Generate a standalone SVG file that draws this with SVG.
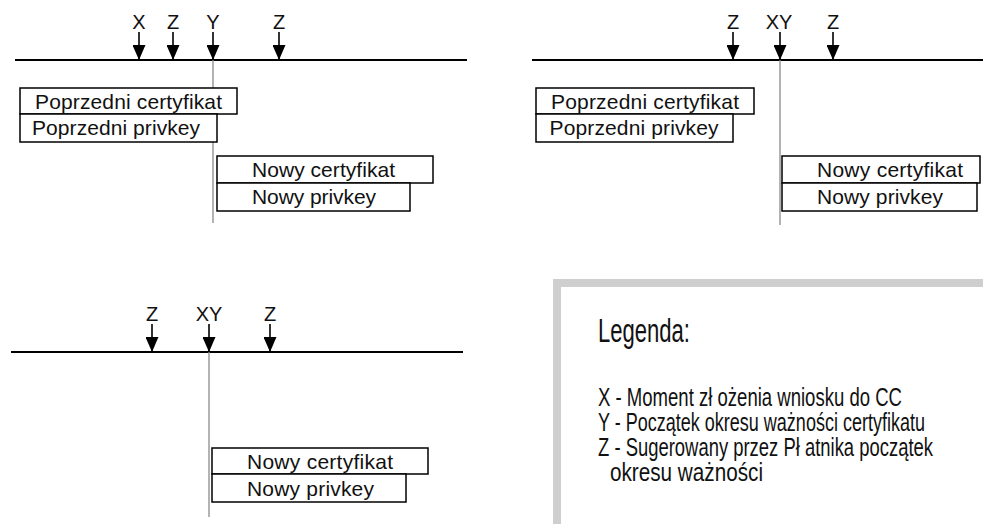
<svg xmlns="http://www.w3.org/2000/svg" width="983" height="524" viewBox="0 0 983 524">
<style>
.bg{fill:#fff}
.box{fill:#fff;stroke:#000;stroke-width:1.5}
.t{font-family:"Liberation Sans",Arial,sans-serif;font-size:21px;fill:#111;text-anchor:middle}
.lab{font-family:"Liberation Sans",Arial,sans-serif;font-size:20px;fill:#111;text-anchor:middle}
.axis{stroke:#000;stroke-width:1.8;fill:none}
.vline{stroke:#8a8a8a;stroke-width:1.3;fill:none}
.arr{stroke:#000;stroke-width:1.6;fill:none;marker-end:url(#head)}
.leg{font-family:"Liberation Sans",Arial,sans-serif;fill:#111}
.legbox{fill:#fff;stroke:#cfcfcf;stroke-width:8}
</style>
<defs>
<marker id="head" viewBox="0 0 15 13" refX="15" refY="6.5" markerWidth="15" markerHeight="13" markerUnits="userSpaceOnUse" orient="auto">
<path d="M0,0 L15,6.5 L0,13 z" fill="#000"/>
</marker>
</defs>
<rect class="bg" x="0" y="0" width="983" height="524"/>

<!-- Panel 1 -->
<g id="panel1">
<g id="p1-connectors">
<line class="axis" x1="15" y1="60" x2="467" y2="60"/>
<line class="vline" x1="213" y1="60" x2="213" y2="223"/>
<line class="arr" x1="139" y1="32" x2="139" y2="60"/>
<line class="arr" x1="173" y1="32" x2="173" y2="60"/>
<line class="arr" x1="213" y1="32" x2="213" y2="60"/>
<line class="arr" x1="279" y1="32" x2="279" y2="60"/>
</g>
<g id="p1-labels">
<text class="lab" x="139" y="29">X</text>
<text class="lab" x="173" y="29">Z</text>
<text class="lab" x="213" y="29">Y</text>
<text class="lab" x="279" y="29">Z</text>
</g>
<g id="p1-prev-cert"><rect class="box" x="20" y="88" width="217" height="26"/><text class="t" x="128.5" y="109" textLength="187">Poprzedni certyfikat</text></g>
<g id="p1-prev-key"><rect class="box" x="20" y="114" width="197" height="28"/><text class="t" x="116" y="135" textLength="168">Poprzedni privkey</text></g>
<g id="p1-new-cert"><rect class="box" x="217" y="156" width="216" height="27"/><text class="t" x="323.5" y="177" textLength="143">Nowy certyfikat</text></g>
<g id="p1-new-key"><rect class="box" x="217" y="183" width="193" height="28"/><text class="t" x="314" y="204" textLength="124">Nowy privkey</text></g>
</g>

<!-- Panel 2 -->
<g id="panel2">
<g id="p2-connectors">
<line class="axis" x1="532" y1="60" x2="983" y2="60"/>
<line class="vline" x1="780" y1="60" x2="780" y2="225"/>
<line class="arr" x1="733" y1="32" x2="733" y2="60"/>
<line class="arr" x1="780" y1="32" x2="780" y2="60"/>
<line class="arr" x1="833" y1="32" x2="833" y2="60"/>
</g>
<g id="p2-labels">
<text class="lab" x="733" y="29">Z</text>
<text class="lab" x="779" y="29">XY</text>
<text class="lab" x="833" y="29">Z</text>
</g>
<g id="p2-prev-cert"><rect class="box" x="536" y="88" width="218" height="26"/><text class="t" x="645" y="109" textLength="188">Poprzedni certyfikat</text></g>
<g id="p2-prev-key"><rect class="box" x="536" y="114" width="197" height="28"/><text class="t" x="634" y="135" textLength="169">Poprzedni privkey</text></g>
<g id="p2-new-cert"><rect class="box" x="782" y="156" width="198" height="27"/><text class="t" x="890" y="177" textLength="146">Nowy certyfikat</text></g>
<g id="p2-new-key"><rect class="box" x="782" y="183" width="195" height="28"/><text class="t" x="880" y="204" textLength="126">Nowy privkey</text></g>
</g>

<!-- Panel 3 -->
<g id="panel3">
<g id="p3-connectors">
<line class="axis" x1="11" y1="352" x2="463" y2="352"/>
<line class="vline" x1="209" y1="352" x2="209" y2="517"/>
<line class="arr" x1="152" y1="324" x2="152" y2="352"/>
<line class="arr" x1="209" y1="324" x2="209" y2="352"/>
<line class="arr" x1="270" y1="324" x2="270" y2="352"/>
</g>
<g id="p3-labels">
<text class="lab" x="152" y="321">Z</text>
<text class="lab" x="209" y="321">XY</text>
<text class="lab" x="270" y="321">Z</text>
</g>
<g id="p3-new-cert"><rect class="box" x="212" y="448" width="216" height="26"/><text class="t" x="320" y="469" textLength="146">Nowy certyfikat</text></g>
<g id="p3-new-key"><rect class="box" x="212" y="474" width="194" height="28"/><text class="t" x="310.5" y="496" textLength="127">Nowy privkey</text></g>
</g>

<!-- Legend -->
<g id="legend">
<rect class="legbox" x="557" y="283" width="460" height="280"/>
<text class="leg" x="598" y="342" font-size="34" textLength="92" lengthAdjust="spacingAndGlyphs">Legenda:</text>
<text class="leg" x="598" y="406" font-size="26" textLength="304" lengthAdjust="spacingAndGlyphs">X - Moment zł ożenia wniosku do CC</text>
<text class="leg" x="598" y="431" font-size="26" textLength="327" lengthAdjust="spacingAndGlyphs">Y - Początek okresu ważności certyfikatu</text>
<text class="leg" x="598" y="456" font-size="26" textLength="335" lengthAdjust="spacingAndGlyphs">Z - Sugerowany przez Pł atnika początek</text>
<text class="leg" x="610" y="481" font-size="26" textLength="153" lengthAdjust="spacingAndGlyphs">okresu ważności</text>
</g>
</svg>
